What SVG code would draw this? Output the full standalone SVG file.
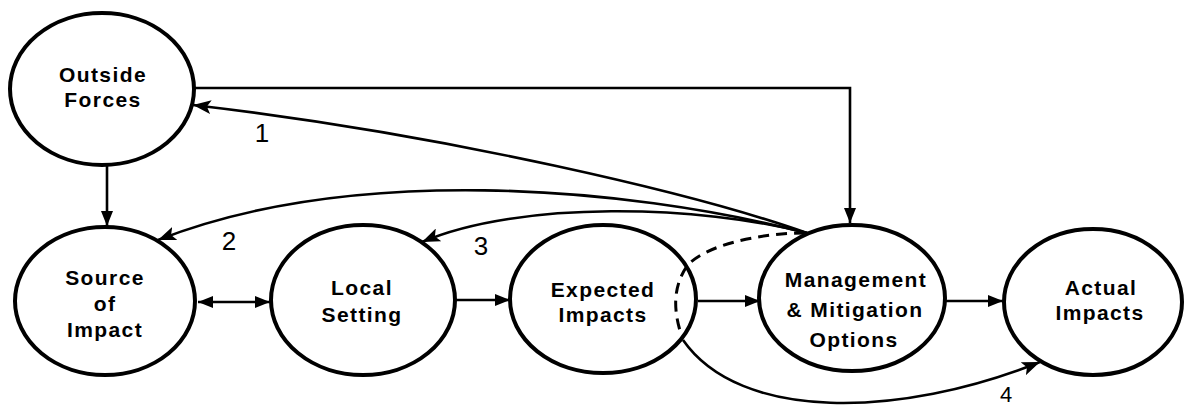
<svg xmlns="http://www.w3.org/2000/svg" width="1184" height="409" viewBox="0 0 1184 409">
<style>
.node{fill:#fff;stroke:#000;stroke-width:4}
.lbl{font-family:"Liberation Sans",Arial,sans-serif;font-weight:bold;font-size:21px;letter-spacing:1.4px;text-anchor:middle;fill:#000}
.num{font-family:"Liberation Sans",Arial,sans-serif;font-size:26px;fill:#000;text-anchor:middle}
.con{fill:none;stroke:#000;stroke-width:2.6}
.dash{fill:none;stroke:#000;stroke-width:3;stroke-dasharray:11 7}
</style>
<defs>
<marker id="ah" markerUnits="userSpaceOnUse" markerWidth="20" markerHeight="14" refX="18" refY="7" orient="auto-start-reverse">
<path d="M0,0 L18,7 L0,14 L4,7 Z" fill="#000"/>
</marker>
<marker id="ahs" markerUnits="userSpaceOnUse" markerWidth="16" markerHeight="12" refX="15" refY="6" orient="auto-start-reverse">
<path d="M0,0 L15,6 L0,12 Z" fill="#000"/>
</marker>
</defs>
<g id="outside-forces">
<ellipse class="node" cx="102" cy="89" rx="92" ry="76"/>
<text class="lbl" x="103" y="82">Outside</text>
<text class="lbl" x="103" y="107">Forces</text>
</g>
<g id="source-of-impact">
<ellipse class="node" cx="105" cy="301" rx="90" ry="74"/>
<text class="lbl" x="105" y="285">Source</text>
<text class="lbl" x="105" y="311">of</text>
<text class="lbl" x="105" y="337">Impact</text>
</g>
<g id="local-setting">
<ellipse class="node" cx="363" cy="300" rx="92" ry="75"/>
<text class="lbl" x="362" y="295">Local</text>
<text class="lbl" x="362" y="322">Setting</text>
</g>
<g id="expected-impacts">
<ellipse class="node" cx="603" cy="299" rx="93" ry="74"/>
<text class="lbl" x="603" y="297">Expected</text>
<text class="lbl" x="603" y="322">Impacts</text>
</g>
<g id="management">
<ellipse class="node" cx="852" cy="298" rx="93" ry="73"/>
<text class="lbl" x="856" y="287">Management</text>
<text class="lbl" x="855" y="317">&amp; Mitigation</text>
<text class="lbl" x="854" y="347">Options</text>
</g>
<g id="actual-impacts">
<ellipse class="node" cx="1093" cy="302" rx="89" ry="73"/>
<text class="lbl" x="1101" y="295">Actual</text>
<text class="lbl" x="1100" y="320">Impacts</text>
</g>
<g id="connectors">
<path class="con" d="M195,88 L850,88 L850,223" marker-end="url(#ahs)"/>
<path class="con" d="M807,233 C700,195 450,135 193,105" marker-end="url(#ah)"/>
<path class="con" d="M107,165 L107,226" marker-end="url(#ahs)"/>
<path class="con" d="M807,233 C620,185 350,165 158,240" marker-end="url(#ah)"/>
<path class="con" d="M807,233 C700,205 520,200 422,242" marker-end="url(#ah)"/>
<path class="dash" d="M805,233 C760,233 705,245 687,266 C672,288 674,312 681,334"/>
<path class="con" d="M198,302 L270,302" marker-start="url(#ahs)" marker-end="url(#ahs)"/>
<path class="con" d="M456,300 L510,300" marker-end="url(#ahs)"/>
<path class="con" d="M698,301 L760,301" marker-end="url(#ahs)"/>
<path class="con" d="M946,301 L1003,301" marker-end="url(#ahs)"/>
<path class="con" d="M683,340 C740,422 900,418 1040,362" marker-end="url(#ah)"/>
<text class="num" x="262" y="142">1</text>
<text class="num" x="229" y="250">2</text>
<text class="num" x="481" y="255">3</text>
<text class="num" x="1006" y="402" style="font-size:22px">4</text>
</g>
</svg>
